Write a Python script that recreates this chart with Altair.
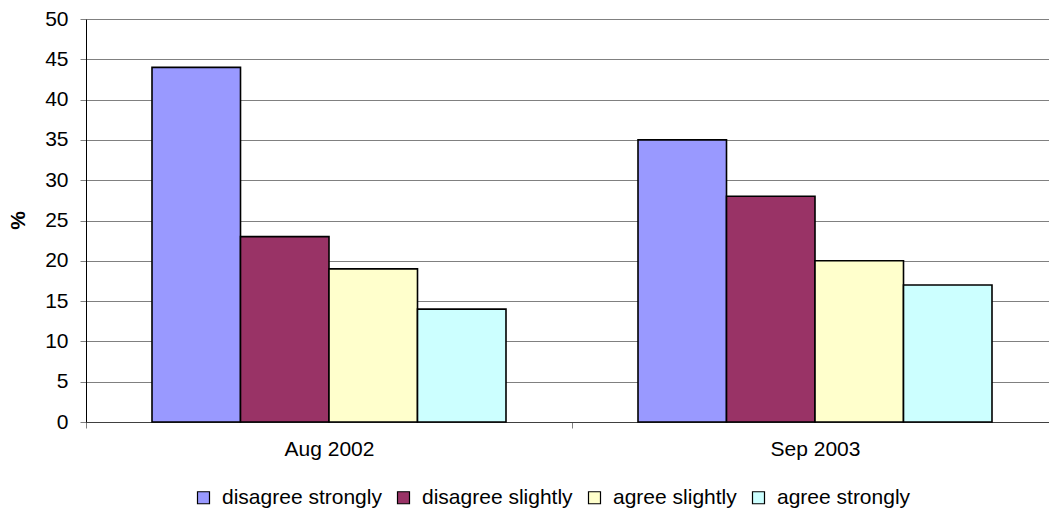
import altair as alt
import pandas as pd

# Survey responses by wave
periods = ["Aug 2002", "Sep 2003"]
responses = ["disagree strongly", "disagree slightly", "agree slightly", "agree strongly"]
aug_2002 = [44, 23, 19, 14]
sep_2003 = [35, 28, 20, 17]
colors = ["#9999FF", "#993366", "#FFFFCC", "#CCFFFF"]

rows = []
for period, vals in zip(periods, [aug_2002, sep_2003]):
    for resp, v in zip(responses, vals):
        rows.append({"period": period, "response": resp, "pct": v})
df = pd.DataFrame(rows)

FONT = "Arial, Liberation Sans, sans-serif"
FS = 21

chart = (
    alt.Chart(df)
    .mark_bar(stroke="black", strokeWidth=1.6)
    .encode(
        x=alt.X(
            "period:N",
            sort=periods,
            # category band runs a little past the right edge of the view
            scale=alt.Scale(paddingInner=0, paddingOuter=0, range=[0, 972]),
            axis=alt.Axis(
                title=None,
                labelAngle=0,
                tickBand="extent",
                tickSize=6,
                tickColor="#808080",
                domainColor="#404040",
                labelPadding=10,
                labelFontSize=FS,
                labelColor="black",
                labelFont=FONT,
                grid=False,
            ),
        ),
        xOffset=alt.XOffset(
            "response:N",
            sort=responses,
            scale=alt.Scale(paddingInner=0, paddingOuter=0.7458),
        ),
        y=alt.Y(
            "pct:Q",
            scale=alt.Scale(domain=[0, 50], nice=False),
            axis=alt.Axis(
                values=list(range(0, 51, 5)),
                title="%",
                titleAngle=-90,
                titleFont=FONT,
                titleFontSize=FS,
                titleFontWeight="bold",
                titleColor="black",
                titleX=-68,
                titleY=201,
                titleAlign="center",
                titleBaseline="middle",
                tickSize=6,
                tickColor="#808080",
                domainColor="black",
                labelPadding=12,
                labelFontSize=FS,
                labelColor="black",
                labelFont=FONT,
                grid=True,
                gridColor="#808080",
                gridWidth=1,
            ),
        ),
        color=alt.Color(
            "response:N",
            sort=responses,
            scale=alt.Scale(domain=responses, range=colors),
            legend=alt.Legend(
                title=None,
                orient="none",
                direction="horizontal",
                legendX=107,
                legendY=468,
                symbolType="square",
                symbolSize=144,
                symbolStrokeColor="black",
                symbolStrokeWidth=1.2,
                symbolOpacity=1,
                labelFontSize=FS,
                labelFont=FONT,
                labelColor="black",
                labelOffset=8,
                columnPadding=11,
            ),
        ),
    )
    .properties(
        width=963,
        height=403,
        autosize=alt.AutoSizeParams(type="none"),
        padding={"left": 86, "top": 19, "right": 0, "bottom": 89},
    )
    .configure_view(stroke=None)
)

chart.save("out.html", embed_options={"renderer": "svg", "actions": False})
